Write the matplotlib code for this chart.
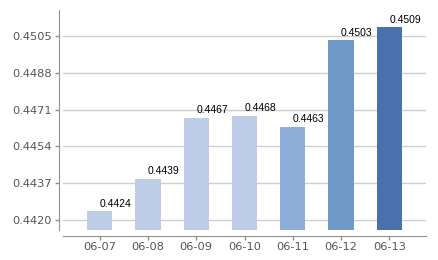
import matplotlib
matplotlib.use('Agg')
import matplotlib.pyplot as plt
from matplotlib.ticker import FormatStrFormatter

dates = ['06-07', '06-08', '06-09', '06-10', '06-11', '06-12', '06-13']
values = [0.4424, 0.4439, 0.4467, 0.4468, 0.4463, 0.4503, 0.4509]
bar_colors = ['#BDCDE7', '#BDCDE7', '#BDCDE7', '#BDCDE7', '#8EADD9', '#6F9AC7', '#4A70AD']
yticks = [0.4420, 0.4437, 0.4454, 0.4471, 0.4488, 0.4505]

base = 0.44154
top = 0.45170

fig = plt.figure(figsize=(4.38, 2.60), dpi=100)
ax = fig.add_axes([63/438, 1 - 230/260, (426 - 63)/438, 220/260])

x = range(len(dates))
heights = [v - base for v in values]
ax.bar(x, heights, bottom=base, width=0.52, color=bar_colors, zorder=2)

for i, v in enumerate(values):
    ax.annotate(f'{v:.4f}', (i, v), xytext=(0, 2), textcoords='offset points',
                ha='left', va='bottom', fontsize=7.5, family='Liberation Sans', color='black')

ax.set_xlim(-0.76, 6.76)
ax.set_ylim(base, top)
ax.set_yticks(yticks)
ax.yaxis.set_major_formatter(FormatStrFormatter('%.4f'))
ax.set_xticks(list(x))
ax.set_xticklabels(dates)

ax.grid(axis='y', color='#CFCFCF', linewidth=1, zorder=0)
for s in ['top', 'right']:
    ax.spines[s].set_visible(False)
ax.spines['left'].set_position(('outward', 3))
ax.spines['bottom'].set_position(('outward', 4))
ax.spines['left'].set_color('#909090')
ax.spines['bottom'].set_color('#909090')
ax.tick_params(axis='both', colors='#909090', length=3, width=1, labelsize=8.2, labelcolor='#555555')
ax.tick_params(axis='y', pad=2)
ax.tick_params(axis='x', pad=2)

plt.savefig('out.png', dpi=100, facecolor='white')
